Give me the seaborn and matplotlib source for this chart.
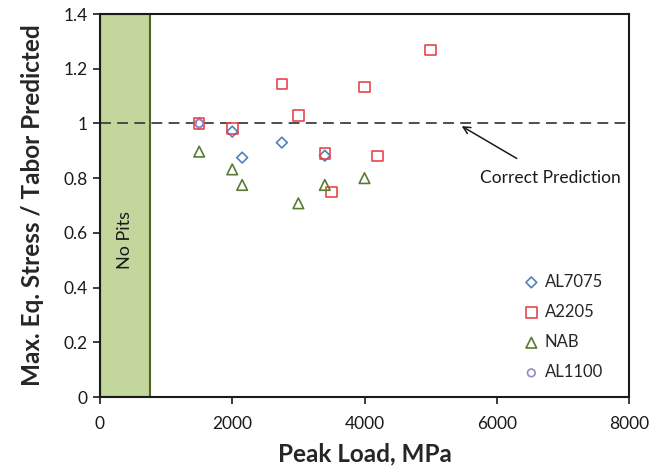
import matplotlib
matplotlib.use("Agg")
import matplotlib.pyplot as plt
import seaborn as sns
import pandas as pd
from matplotlib.patches import Rectangle

sns.set_style("ticks")
plt.rcParams["font.family"] = ["Lato", "DejaVu Sans"]

# Peak load (MPa) vs. ratio of max. equivalent stress to Tabor prediction
al7075_load = [1500, 2000, 2150, 2750, 3400]
al7075_ratio = [1.00, 0.97, 0.875, 0.93, 0.882]

a2205_load = [1500, 2000, 2750, 3000, 3400, 3500, 4000, 4200, 5000]
a2205_ratio = [1.00, 0.982, 1.144, 1.03, 0.89, 0.75, 1.133, 0.881, 1.268]

nab_load = [1500, 2000, 2150, 3000, 3400, 4000]
nab_ratio = [0.897, 0.832, 0.775, 0.708, 0.775, 0.80]

al1100_load = [1500]
al1100_ratio = [1.00]

series = [
    ("AL7075", al7075_load, al7075_ratio, "D", "#4f81bd", 30),
    ("A2205", a2205_load, a2205_ratio, "s", "#e5474b", 58),
    ("NAB", nab_load, nab_ratio, "^", "#5a7a34", 58),
    ("AL1100", al1100_load, al1100_ratio, "o", "#9a86c2", 30),
]

no_pit_limit = 750
x_ticks = [0, 2000, 4000, 6000, 8000]
y_ticks = [0, 0.2, 0.4, 0.6, 0.8, 1.0, 1.2, 1.4]
y_tick_labels = ["0", "0.2", "0.4", "0.6", "0.8", "1", "1.2", "1.4"]

fig = plt.figure(figsize=(6.7, 4.71), dpi=100)
ax = fig.add_axes([100 / 670, 1 - 397 / 471, 529 / 670, 383 / 471])

# Region with no pits
ax.add_patch(Rectangle((0, 0), no_pit_limit, 1.4, facecolor="#c3d69b",
                       edgecolor="#4f6228", linewidth=1.5, zorder=1))
ax.text(no_pit_limit / 2, 0.575, "No Pits", rotation=90, ha="center",
        va="center", fontsize=13, color="#1a1a1a", zorder=2)

# Ideal prediction line
ax.axhline(1.0, color="#404040", linestyle=(0, (6, 3.5)), linewidth=1.3, zorder=2)

for name, xs, ys, mk, col, size in series:
    df = pd.DataFrame({"load": xs, "ratio": ys})
    sns.scatterplot(data=df, x="load", y="ratio", marker=mk, s=size,
                    color=col, ax=ax, label=name, zorder=3)
    coll = ax.collections[-1]
    coll.set_facecolor("none")
    coll.set_edgecolor(col)
    coll.set_linewidth(1.2)

ax.annotate("Correct Prediction", xy=(5470, 0.99), xytext=(6810, 0.80),
            ha="center", va="center", fontsize=12.5, color="#1a1a1a",
            arrowprops=dict(arrowstyle="->", color="#1a1a1a", lw=1.1,
                            shrinkA=12, shrinkB=0))

ax.set_xlim(0, 8000)
ax.set_ylim(0, 1.4)
ax.set_xticks(x_ticks)
ax.set_yticks(y_ticks)
ax.set_yticklabels(y_tick_labels)
ax.tick_params(axis="both", labelsize=12.5, direction="out", length=5,
               width=1.2, colors="#1a1a1a")
ax.tick_params(axis="x", pad=9)
ax.tick_params(axis="y", pad=4)
for sp in ax.spines.values():
    sp.set_visible(True)
    sp.set_linewidth(1.5)
    sp.set_color("#1a1a1a")

ax.set_xlabel("Peak Load, MPa", fontsize=17.5, fontweight="bold", labelpad=7)
ax.set_ylabel("Max. Eq. Stress / Tabor Predicted", fontsize=17.5,
              fontweight="bold", labelpad=14)

leg = ax.legend(loc="center left", bbox_to_anchor=(518 / 670, 1 - 327 / 471),
                bbox_transform=fig.transFigure, frameon=False, fontsize=12,
                handlelength=0.8, handletextpad=0.4, labelspacing=0.85,
                borderaxespad=0)
for h, (_, _, _, mk, col, size) in zip(leg.legend_handles, series):
    h.set_facecolor("none")
    h.set_edgecolor(col)

fig.savefig("out.png", dpi=100)
